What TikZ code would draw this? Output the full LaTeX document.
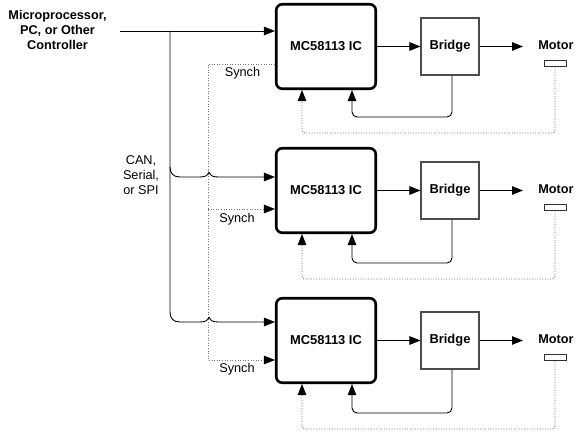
\documentclass[tikz,border=0pt]{standalone}
\usepackage{fontspec}
\setmainfont{Liberation Sans}
\usetikzlibrary{arrows.meta,calc}
\begin{document}
\begin{tikzpicture}[x=1pt,y=-1pt,
  txt/.style={font=\fontsize{12.7}{15}\selectfont, inner sep=0pt, align=center},
  btxt/.style={font=\fontsize{12.7}{15}\selectfont\bfseries, inner sep=0pt, align=center},
  icbox/.style={draw, line width=2.6pt, rounded corners=6pt, minimum width=99.5pt, minimum height=84.5pt, inner sep=0pt, font=\fontsize{12.9}{15}\selectfont\bfseries},
  bridgebox/.style={draw=black!70, line width=1.1pt, minimum width=58pt, minimum height=57pt, inner sep=0pt, font=\fontsize{12.9}{15}\selectfont\bfseries},
  motorbox/.style={draw=black!80, line width=0.9pt, minimum width=22pt, minimum height=6.5pt, inner sep=0pt},
  wire/.style={line width=0.9pt},
  arr/.style={wire, -{Triangle[length=11pt,width=8.5pt]}},
  dots/.style={line width=0.9pt, black!55, dash pattern=on 1pt off 1.6pt},
  darr/.style={dots, -{Triangle[length=11pt,width=8.5pt,color=black]}},
]
\useasboundingbox (0,0) rectangle (580,443);

\foreach \i/\yc/\yfb/\yd in {1/46.5/117/133, 2/190.5/263/279, 3/340.5/413/429}{
  \node[icbox] (ic\i) at (326,\yc) {MC58113 IC};
  \node[bridgebox] (br\i) at (450,\yc) {Bridge};
  \node[btxt] (mt\i) at (556,\yc-1.5) {Motor};
  \node[motorbox] (mr\i) at (555,\yc+17) {};
  \coordinate (me\i) at (523,\yc);
  \draw[arr] (ic\i) -- (br\i);
  \draw[arr] (br\i) -- (me\i);
  \coordinate (fb\i) at (352,\yfb);
  \draw[arr, rounded corners=5pt] ([xshift=2pt]br\i.south) |- (fb\i) -- (fb\i |- ic\i.south);
  \coordinate (dd\i) at (302,\yd);
  \draw[darr, rounded corners=3pt] (mr\i.south) |- (dd\i) -- (dd\i |- ic\i.south);
}

% left labels
\node[btxt] (ctrl) at (57.5,30) {Microprocessor,\\PC, or Other\\Controller};
\node[txt] (can) at (141,175) {CAN,\\Serial,\\or SPI};

% synch dotted bus
\coordinate (s1) at (208,64);
\coordinate (s2) at (208,209);
\coordinate (s3) at (208,360);
\draw[darr] (s1 -| ic1.west) -- (s1) -- (s3) -- (s3 -| ic3.west);
\draw[darr] (s2) -- (s2 -| ic2.west);
\node[txt] (sy1) at (242.5,73) {Synch};
\node[txt] (sy2) at (237,219) {Synch};
\node[txt] (sy3) at (237,369) {Synch};

% controller bus
\coordinate (cin) at (120,31);
\coordinate (bt) at (170,31);
\coordinate (b2) at (170,177);
\coordinate (b3) at (170,322);
\draw[arr] (cin) -- (cin -| ic1.west);
\draw[arr] (bt) -- ($(b3)+(0,-10)$) .. controls ($(b3)+(0,-4)$) and ($(b3)+(3,0)$) .. ($(b3)+(10,0)$)
  -- ($(b3)+(30,0)$) .. controls ($(b3)+(36,0)$) and ($(b3)+(38,-2)$) .. ($(b3)+(39,-4.5)$)
  .. controls ($(b3)+(40,-2)$) and ($(b3)+(42,0)$) .. ($(b3)+(48,0)$) -- (b3 -| ic3.west);
\draw[arr] ($(b2)+(0,-10)$) .. controls ($(b2)+(0,-4)$) and ($(b2)+(3,0)$) .. ($(b2)+(10,0)$)
  -- ($(b2)+(30,0)$) .. controls ($(b2)+(36,0)$) and ($(b2)+(38,-2)$) .. ($(b2)+(39,-4.5)$)
  .. controls ($(b2)+(40,-2)$) and ($(b2)+(42,0)$) .. ($(b2)+(48,0)$) -- (b2 -| ic2.west);
\end{tikzpicture}
\end{document}
